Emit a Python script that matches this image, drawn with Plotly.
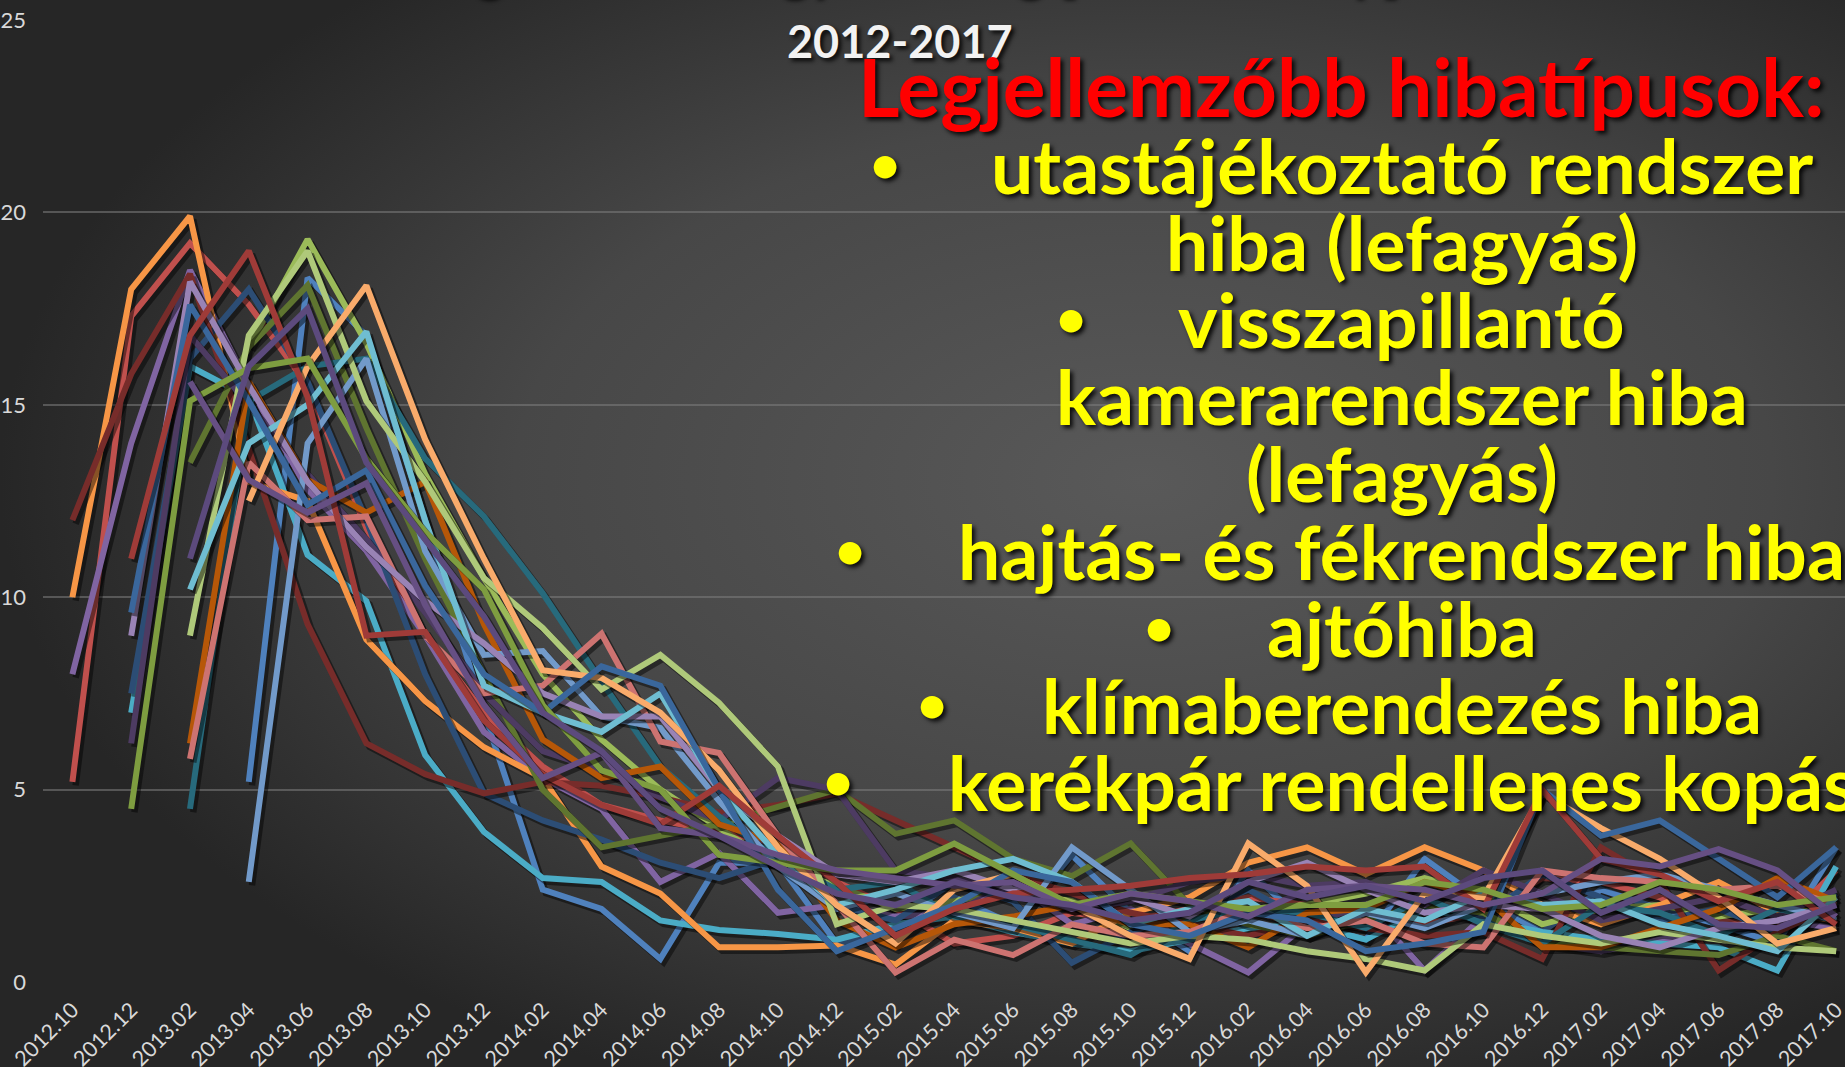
import base64
import plotly.graph_objects as go

labels = ["2012.10", "2012.12", "2013.02", "2013.04", "2013.06", "2013.08", "2013.10", "2013.12",
          "2014.02", "2014.04", "2014.06", "2014.08", "2014.10", "2014.12", "2015.02", "2015.04",
          "2015.06", "2015.08", "2015.10", "2015.12", "2016.02", "2016.04", "2016.06", "2016.08",
          "2016.10", "2016.12", "2017.02", "2017.04", "2017.06", "2017.08", "2017.10"]
N = None

s01 = [N, N, N, 5.2, 18.3, 16.8, 12.0, 7.0, 2.4, 1.9, 0.6, 3.1, 3.1, 1.0, 1.3, 2.2, 1.5, 3.3, 1.8, 0.8, 2.9, 1.5, 1.1, 3.2, 2.1, 1.3, 2.4, 1.9, 1.5, 1.0, 3.5]
s02 = [5.2, 17.3, 19.2, 17.6, 15.5, 11.8, 9.0, 7.0, 5.6, 4.6, 4.2, 3.9, 3.6, 2.6, 1.9, 1.0, 1.2, 1.8, 1.6, 1.9, 2.2, 2.0, 1.9, 1.5, 1.8, 2.7, 2.6, 2.2, 1.6, 1.4, 2.9]
s03 = [N, N, N, 16.5, 19.3, 16.6, 13.2, 10.5, 8.0, 6.3, 5.0, 4.0, 3.0, 2.5, 1.9, 2.1, 2.4, 2.1, 1.4, 1.7, 1.9, 2.0, 2.3, 2.7, 2.3, 1.5, 1.9, 2.0, 1.7, 1.9, 1.8]
s04 = [8.0, 14.0, 18.5, 15.5, 12.8, 11.2, 9.0, 6.5, 5.3, 4.5, 2.6, 3.35, 1.8, 2.0, 1.7, 1.8, 2.6, 1.5, 1.9, 1.0, 0.25, 1.5, 2.0, 0.3, 1.7, 1.0, 0.8, 1.1, 1.3, 1.6, 1.4]
s05 = [N, 7.0, 16.0, 15.2, 11.1, 9.9, 5.9, 3.9, 2.7, 2.6, 1.6, 1.35, 1.25, 1.1, 1.5, 1.7, 1.3, 1.0, 0.8, 1.1, 1.4, 1.5, 1.1, 1.9, 1.6, 1.3, 1.1, 1.0, 0.9, 0.3, 3.0]
s06 = [10.0, 18.0, 19.9, 13.0, 12.5, 8.9, 7.3, 6.1, 5.3, 3.0, 2.3, 0.9, 0.9, 0.95, 0.45, 1.6, 1.4, 1.0, 1.8, 2.2, 3.1, 3.5, 2.8, 3.5, 2.9, 2.0, 1.5, 2.0, 2.6, 1.8, 1.6]
s07 = [N, 7.5, 16.2, 18.0, 15.6, 12.0, 8.0, 4.9, 4.2, 3.7, 3.1, 2.7, 3.2, 2.0, 1.6, 2.6, 2.1, 0.5, 1.3, 1.8, 2.4, 1.6, 1.4, 2.1, 1.7, 2.8, 2.2, 1.6, 1.9, 1.3, 2.3]
s08 = [12.0, 15.8, 18.4, 13.8, 9.3, 6.2, 5.4, 4.9, 5.2, 5.1, 4.8, 4.4, 4.6, 4.9, 4.2, 3.5, 2.8, 2.3, 1.8, 1.5, 1.2, 1.6, 1.4, 1.2, 1.3, 0.6, 3.5, 2.6, 0.3, 1.3, 2.0]
s09 = [N, N, 13.5, 16.5, 18.1, 14.4, 11.0, 8.0, 5.0, 3.5, 3.8, 4.1, 4.55, 5.0, 3.85, 4.2, 3.2, 2.75, 3.6, 2.0, 1.5, 1.2, 1.6, 2.0, 1.8, 1.0, 0.9, 0.8, 0.7, 1.2, 0.8]
s10 = [N, 6.2, 16.8, 15.0, 13.2, 11.5, 9.6, 7.5, 6.0, 5.5, 4.8, 4.2, 5.3, 5.0, 2.9, 2.7, 2.3, 1.9, 2.1, 2.6, 2.8, 2.5, 2.6, 2.0, 2.9, 2.3, 1.6, 1.9, 2.2, 1.7, 2.4]
s11 = [N, N, 4.5, 15.1, 16.0, 16.2, 13.6, 12.1, 10.1, 7.8, 5.6, 4.3, 3.2, 2.4, 2.6, 1.7, 1.5, 1.1, 0.7, 1.6, 1.9, 1.8, 1.4, 2.2, 1.5, 1.0, 2.0, 1.8, 1.2, 1.9, 1.6]
s12 = [N, N, 6.2, 15.6, 13.05, 12.2, 13.0, 9.3, 6.3, 5.3, 5.6, 4.1, 3.6, 1.6, 0.9, 1.5, 1.7, 2.0, 1.5, 1.5, 0.9, 1.8, 1.9, 2.6, 2.2, 0.9, 0.9, 1.4, 1.9, 2.7, 2.1]
s13 = [N, N, N, 2.6, 14.0, 16.2, 11.2, 8.5, 8.6, 6.9, 6.6, 4.7, 3.0, 1.9, 2.3, 1.8, 1.4, 3.5, 2.4, 1.3, 1.6, 1.2, 1.8, 1.4, 2.0, 2.3, 2.6, 2.8, 2.4, 2.0, 1.6]
s14 = [N, N, 5.8, 13.5, 12.0, 12.1, 9.0, 7.5, 7.7, 9.05, 6.25, 5.95, 3.8, 2.0, 0.25, 1.1, 0.7, 1.5, 1.2, 1.3, 1.9, 1.4, 1.6, 1.0, 0.9, 2.9, 2.7, 2.6, 2.4, 2.5, 2.0]
s15 = [N, N, 9.0, 16.8, 19.0, 15.1, 13.0, 10.5, 9.2, 7.6, 8.5, 7.25, 5.6, 1.5, 2.0, 1.9, 1.6, 1.3, 1.0, 1.2, 1.1, 0.8, 0.6, 0.3, 1.5, 1.2, 1.0, 1.3, 1.1, 0.9, 0.8]
s16 = [N, 9.0, 18.2, 15.5, 13.0, 11.3, 9.9, 8.8, 7.5, 6.9, 6.9, 5.0, 3.8, 2.8, 2.6, 2.9, 2.4, 1.9, 2.2, 1.7, 2.6, 3.1, 2.4, 1.8, 2.0, 1.9, 1.2, 0.9, 1.4, 1.6, 2.0]
s17 = [N, N, 10.2, 14.0, 15.0, 16.9, 12.0, 7.7, 7.0, 6.5, 7.5, 5.0, 3.3, 2.0, 2.4, 2.9, 3.2, 2.6, 1.5, 1.9, 2.1, 1.2, 1.9, 1.6, 2.3, 2.0, 2.1, 1.5, 1.2, 0.8, 2.2]
s18 = [N, N, N, 12.5, 16.0, 18.1, 14.1, 11.0, 8.1, 7.9, 7.0, 5.5, 3.5, 2.0, 1.0, 2.4, 2.8, 2.0, 1.2, 0.6, 3.6, 2.5, 0.25, 2.3, 2.2, 4.9, 4.0, 3.2, 2.2, 1.0, 1.4]
s19 = [N, 9.6, 17.6, 15.1, 12.4, 13.3, 10.3, 8.0, 7.0, 8.2, 7.7, 5.0, 2.4, 0.8, 1.4, 2.0, 2.9, 2.6, 1.5, 1.2, 1.8, 1.6, 0.8, 1.0, 1.3, 5.0, 3.8, 4.2, 3.2, 2.2, 3.5]
s20 = [N, 11.0, 16.8, 19.0, 15.2, 9.0, 9.1, 6.8, 5.4, 4.6, 4.1, 5.1, 3.8, 2.6, 1.2, 1.9, 2.3, 2.4, 2.5, 2.7, 2.8, 3.0, 2.9, 3.0, 1.9, 5.0, 3.2, 2.8, 2.1, 2.6, 1.5]
s21 = [N, 4.5, 15.1, 15.95, 16.2, 13.6, 11.7, 10.2, 7.2, 5.5, 5.0, 3.3, 3.1, 2.9, 2.9, 3.6, 2.8, 2.0, 2.3, 2.1, 1.9, 2.0, 2.0, 2.6, 2.4, 1.9, 2.0, 2.6, 2.4, 2.0, 2.2]
s22 = [N, N, 15.6, 13.05, 12.2, 12.96, 9.8, 7.2, 5.3, 5.96, 4.0, 3.8, 3.3, 2.9, 2.7, 2.5, 2.6, 1.9, 2.3, 2.1, 1.7, 2.4, 2.5, 2.4, 2.0, 2.3, 3.2, 3.0, 3.45, 2.9, 1.7]
s23 = [N, N, 11.0, 16.0, 17.5, 13.5, 11.5, 9.5, 7.0, 6.0, 4.5, 3.8, 3.0, 2.3, 2.0, 2.6, 2.2, 2.0, 1.6, 1.8, 2.6, 2.2, 2.5, 2.1, 2.7, 2.9, 1.8, 2.4, 1.5, 1.4, 2.0]

series = [
    (s01, "#4F81BD"), (s02, "#C0504D"), (s03, "#9BBB59"), (s04, "#8064A2"), (s05, "#4BACC6"),
    (s06, "#F79646"), (s07, "#2C4D75"), (s08, "#772C2A"), (s09, "#5F7530"), (s10, "#4D3B62"),
    (s11, "#276A7C"), (s12, "#B65708"), (s13, "#729ACA"), (s14, "#CD7371"), (s15, "#AFC97A"),
    (s16, "#9983B5"), (s17, "#6FBDD1"), (s18, "#F9AB6B"), (s19, "#3A679C"), (s20, "#9F3B38"),
    (s21, "#7E9D40"), (s22, "#664F83"), (s23, "#5C4A7D"),
]

title_top = "Meghibásodási gyakoriság [hiba/db/nap]"
title_sub = "2012-2017"
red_head = "Legjellemzőbb hibatípusok:"
yellow_lines = [
    ("utastájékoztató rendszer", True),
    ("hiba (lefagyás)", False),
    ("visszapillantó", True),
    ("kamerarendszer hiba", False),
    ("(lefagyás)", False),
    ("hajtás- és fékrendszer hiba", True),
    ("ajtóhiba", True),
    ("klímaberendezés hiba", True),
    ("kerékpár rendellenes kopás", True),
]
bullet_px = [885, None, 1071, None, None, 850, 1159, 932, 838]

W, H = 1845, 1067
ML, MR, MT, MB = 43, 0, 20, 85
PW, PH = W - ML - MR, H - MT - MB

def px(xp):
    return (xp - ML) / PW

def py(yp):
    return (H - MB - yp) / PH

fig = go.Figure()
xs = list(range(len(labels)))
dx, dy = 0.055, 0.09
for vals, col in series:
    sx = [x + dx for x in xs]
    sy = [None if v is None else v - dy for v in vals]
    fig.add_trace(go.Scatter(x=sx, y=sy, mode="lines", line=dict(color="rgba(0,0,0,0.45)", width=6.5),
                             hoverinfo="skip", showlegend=False))
    fig.add_trace(go.Scatter(x=xs, y=vals, mode="lines", line=dict(color=col, width=6),
                             showlegend=False))

svg = """<svg xmlns='http://www.w3.org/2000/svg' width='1845' height='1067' viewBox='0 0 1845 1067' preserveAspectRatio='none'>
<defs><radialGradient id='g' cx='0.62' cy='0.45' r='0.62' gradientUnits='objectBoundingBox'>
<stop offset='0' stop-color='#595959'/><stop offset='0.55' stop-color='#474747'/><stop offset='1' stop-color='#262626'/>
</radialGradient></defs><rect width='1845' height='1067' fill='url(#g)'/></svg>"""
src = "data:image/svg+xml;base64," + base64.b64encode(svg.encode()).decode()

fig.add_layout_image(dict(source=src, xref="paper", yref="paper", x=px(0), y=py(0),
                          sizex=W / PW, sizey=H / PH, sizing="stretch", layer="below",
                          xanchor="left", yanchor="top"))

shadow = "3px 3px 4px rgba(0,0,0,0.85)"
ann = []
ann.append(dict(text=title_top, x=px(895), y=py(2), xref="paper", yref="paper", xanchor="center",
                yanchor="bottom", showarrow=False,
                font=dict(family="Lato", size=56, color="#f2f2f2", weight="bold", shadow=shadow)))
ann.append(dict(text=title_sub, x=px(900), y=py(41), xref="paper", yref="paper", xanchor="center",
                yanchor="middle", showarrow=False,
                font=dict(family="Lato", size=45, color="#f2f2f2", weight="bold", shadow=shadow)))
ann.append(dict(text=red_head, x=px(1341), y=py(86), xref="paper", yref="paper", xanchor="center",
                yanchor="middle", showarrow=False,
                font=dict(family="Lato", size=80, color="#ff0000", weight="bold", shadow=shadow)))
base0, step = 165, 77.1
for k, (txt, _b) in enumerate(yellow_lines):
    yc = base0 + k * step
    ann.append(dict(text=txt, x=px(1401.5), y=py(yc), xref="paper", yref="paper", xanchor="center",
                    yanchor="middle", showarrow=False,
                    font=dict(family="Lato", size=75, color="#ffff00", weight="bold", shadow=shadow)))
    if bullet_px[k] is not None:
        ann.append(dict(text="•", x=px(bullet_px[k]), y=py(yc - 2), xref="paper", yref="paper",
                        xanchor="center", yanchor="middle", showarrow=False,
                        font=dict(family="Lato", size=52, color="#ffff00", weight="bold", shadow=shadow)))

fig.update_layout(
    width=W, height=H, margin=dict(l=ML, r=MR, t=MT, b=MB, autoexpand=False),
    paper_bgcolor="#383838", plot_bgcolor="rgba(0,0,0,0)", showlegend=False,
    font=dict(family="Lato, sans-serif", color="#d9d9d9"),
    annotations=ann,
    xaxis=dict(range=[-0.5, 30.15], tickvals=xs, ticktext=labels, tickangle=-45, showgrid=False,
               zeroline=False, showline=False, ticks="", tickfont=dict(size=21.5, color="#d9d9d9"),
               ticklabelstandoff=10, ticklabeloverflow="allow", fixedrange=True, automargin=False),
    yaxis=dict(range=[0, 25], tickvals=[0, 5, 10, 15, 20, 25], showgrid=True,
               gridcolor="rgba(125,125,125,0.55)", gridwidth=2, zeroline=False, showline=False,
               ticks="", tickfont=dict(size=22, color="#d9d9d9"), ticklabelstandoff=16,
               ticklabeloverflow="allow", fixedrange=True, automargin=False),
)

fig.write_html("out.html", include_plotlyjs=True, full_html=True,
               config={"displayModeBar": False},
               post_script="document.body.style.margin='0';document.body.style.overflow='hidden';")
